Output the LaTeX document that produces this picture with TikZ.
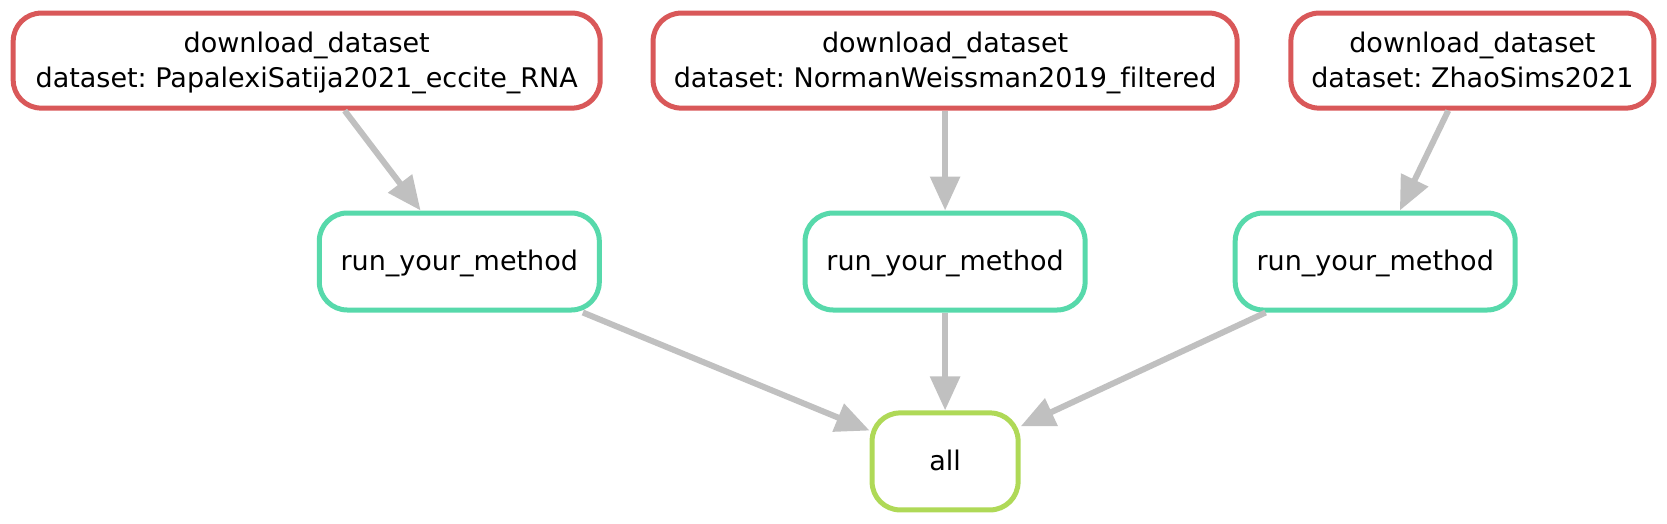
\documentclass[tikz,border=0pt]{standalone}
\usepackage{fontspec}
\setmainfont{DejaVu Sans}[Ligatures=NoCommon]
\usetikzlibrary{arrows.meta}
\frenchspacing

\definecolor{ruleRed}{RGB}{217,88,89}
\definecolor{ruleTeal}{RGB}{87,217,171}
\definecolor{ruleLime}{RGB}{175,217,87}
\definecolor{edgeGray}{RGB}{192,192,192}

\newcommand{\lnstrut}{\rule[-8.6pt]{0pt}{35pt}}

\tikzset{
  rulebox/.style={draw, rounded corners=28pt, line width=5pt, fill=white,
    align=center, inner sep=0pt, font=\fontsize{27}{35}\selectfont},
  dlbox/.style={rulebox, draw=ruleRed, minimum height=95pt},
  runbox/.style={rulebox, draw=ruleTeal, minimum width=280pt, minimum height=97pt},
  allbox/.style={rulebox, draw=ruleLime, minimum width=146pt, minimum height=97pt},
  dep/.style={draw=edgeGray, line width=6pt, -{Triangle[length=34pt,width=29pt]}}
}

\begin{document}
\begin{tikzpicture}[x=1pt,y=1pt,yscale=-1,xscale=1]
\useasboundingbox (0,0) rectangle (1667,523);

%download rules
\node[dlbox, minimum width=587pt] (dlPapalexi) at (306.7,60.6) {\lnstrut download\_dataset\\\lnstrut dataset: PapalexiSatija2021\_eccite\_RNA};
\node[dlbox, minimum width=584pt] (dlNorman) at (945.1,60.6) {\lnstrut download\_dataset\\\lnstrut dataset: NormanWeissman2019\_filtered};
\node[dlbox, minimum width=363pt] (dlZhao) at (1472.4,60.6) {\lnstrut download\_dataset\\\lnstrut dataset: ZhaoSims2021};

%method rules
\node[runbox] (runPapalexi) at (459.3,261.5) {\lnstrut run\_your\_method};
\node[runbox] (runNorman) at (945.1,261.5) {\lnstrut run\_your\_method};
\node[runbox] (runZhao) at (1375.2,261.5) {\lnstrut run\_your\_method};

%target
\node[allbox] (all) at (945.1,461.4) {\lnstrut all};

%edges
\draw[dep] (dlPapalexi) -- (runPapalexi);
\draw[dep] (dlNorman) -- (runNorman);
\draw[dep] (dlZhao) -- (runZhao);
\draw[dep] (runPapalexi) -- (all);
\draw[dep] (runNorman) -- (all);
\draw[dep] (runZhao) -- (all);
\end{tikzpicture}
\end{document}
